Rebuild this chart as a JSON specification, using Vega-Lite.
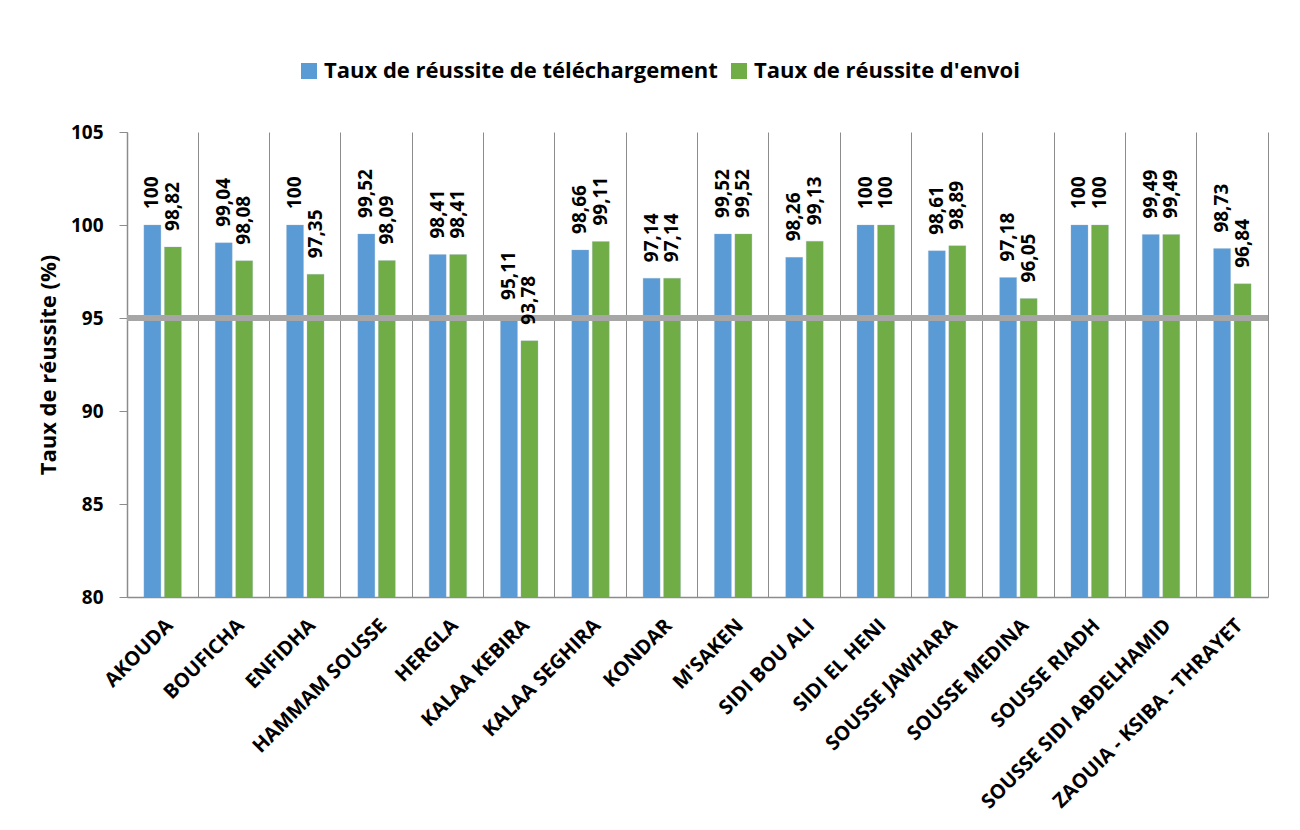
{
  "$schema": "https://vega.github.io/schema/vega-lite/v6.json",
  "width": 1141,
  "height": 465,
  "autosize": "none",
  "padding": {"left": 127, "top": 132, "right": 32, "bottom": 233},
  "background": "white",
  "config": {
    "font": "Open Sans",
    "view": {"stroke": null},
    "locale": {"number": {"decimal": ",", "thousands": " ", "grouping": [3], "currency": ["", " €"]}}
  },
  "datasets": {
    "rates": [
      {"commune": "AKOUDA", "serie": "Taux de réussite de téléchargement", "taux": 100},
      {"commune": "AKOUDA", "serie": "Taux de réussite d'envoi", "taux": 98.82},
      {"commune": "BOUFICHA", "serie": "Taux de réussite de téléchargement", "taux": 99.04},
      {"commune": "BOUFICHA", "serie": "Taux de réussite d'envoi", "taux": 98.08},
      {"commune": "ENFIDHA", "serie": "Taux de réussite de téléchargement", "taux": 100},
      {"commune": "ENFIDHA", "serie": "Taux de réussite d'envoi", "taux": 97.35},
      {"commune": "HAMMAM SOUSSE", "serie": "Taux de réussite de téléchargement", "taux": 99.52},
      {"commune": "HAMMAM SOUSSE", "serie": "Taux de réussite d'envoi", "taux": 98.09},
      {"commune": "HERGLA", "serie": "Taux de réussite de téléchargement", "taux": 98.41},
      {"commune": "HERGLA", "serie": "Taux de réussite d'envoi", "taux": 98.41},
      {"commune": "KALAA KEBIRA", "serie": "Taux de réussite de téléchargement", "taux": 95.11},
      {"commune": "KALAA KEBIRA", "serie": "Taux de réussite d'envoi", "taux": 93.78},
      {"commune": "KALAA SEGHIRA", "serie": "Taux de réussite de téléchargement", "taux": 98.66},
      {"commune": "KALAA SEGHIRA", "serie": "Taux de réussite d'envoi", "taux": 99.11},
      {"commune": "KONDAR", "serie": "Taux de réussite de téléchargement", "taux": 97.14},
      {"commune": "KONDAR", "serie": "Taux de réussite d'envoi", "taux": 97.14},
      {"commune": "M'SAKEN", "serie": "Taux de réussite de téléchargement", "taux": 99.52},
      {"commune": "M'SAKEN", "serie": "Taux de réussite d'envoi", "taux": 99.52},
      {"commune": "SIDI BOU ALI", "serie": "Taux de réussite de téléchargement", "taux": 98.26},
      {"commune": "SIDI BOU ALI", "serie": "Taux de réussite d'envoi", "taux": 99.13},
      {"commune": "SIDI EL HENI", "serie": "Taux de réussite de téléchargement", "taux": 100},
      {"commune": "SIDI EL HENI", "serie": "Taux de réussite d'envoi", "taux": 100},
      {"commune": "SOUSSE JAWHARA", "serie": "Taux de réussite de téléchargement", "taux": 98.61},
      {"commune": "SOUSSE JAWHARA", "serie": "Taux de réussite d'envoi", "taux": 98.89},
      {"commune": "SOUSSE MEDINA", "serie": "Taux de réussite de téléchargement", "taux": 97.18},
      {"commune": "SOUSSE MEDINA", "serie": "Taux de réussite d'envoi", "taux": 96.05},
      {"commune": "SOUSSE RIADH", "serie": "Taux de réussite de téléchargement", "taux": 100},
      {"commune": "SOUSSE RIADH", "serie": "Taux de réussite d'envoi", "taux": 100},
      {"commune": "SOUSSE SIDI ABDELHAMID", "serie": "Taux de réussite de téléchargement", "taux": 99.49},
      {"commune": "SOUSSE SIDI ABDELHAMID", "serie": "Taux de réussite d'envoi", "taux": 99.49},
      {"commune": "ZAOUIA - KSIBA - THRAYET", "serie": "Taux de réussite de téléchargement", "taux": 98.73},
      {"commune": "ZAOUIA - KSIBA - THRAYET", "serie": "Taux de réussite d'envoi", "taux": 96.84}
    ],
    "seuil": [{"taux": 95}]
  },
  "layer": [
    {
      "data": {"name": "rates"},
      "mark": {"type": "bar", "clip": true, "stroke": "#9fb6cc", "strokeWidth": 0.5, "strokeOpacity": 0.6},
      "encoding": {
        "x": {
          "field": "commune", "type": "nominal", "sort": null,
          "scale": {"paddingInner": 0, "paddingOuter": 0},
          "axis": {
            "title": null, "labelAngle": -45, "labelFontSize": 20, "labelFontWeight": "bold",
            "labelColor": "#000000", "labelPadding": 18, "labelLimit": 400,
            "ticks": false, "domainColor": "#8c8c8c", "domainWidth": 1.5,
            "grid": true, "bandPosition": 0, "gridColor": "#8c8c8c", "gridWidth": 1
          }
        },
        "xOffset": {
          "field": "serie", "type": "nominal", "sort": null,
          "scale": {"paddingInner": 0.17, "paddingOuter": 0.825}
        },
        "y": {
          "field": "taux", "type": "quantitative",
          "scale": {"domain": [80, 105], "zero": false, "nice": false},
          "axis": {
            "title": "Taux de réussite (%)", "titleFontSize": 22, "titleFontWeight": "bold",
            "titleColor": "#000000", "titlePadding": 10,
            "values": [80, 85, 90, 95, 100, 105], "format": "d",
            "labelFontSize": 19, "labelFontWeight": "bold", "labelColor": "#000000",
            "labelPadding": 16, "tickSize": 8, "tickColor": "#8c8c8c", "domainColor": "#8c8c8c",
            "domainWidth": 1.5, "grid": false
          }
        },
        "color": {
          "field": "serie", "type": "nominal", "sort": null,
          "scale": {"range": ["#5B9BD5", "#70AD47"]},
          "legend": {
            "title": null, "orient": "none", "direction": "horizontal",
            "legendX": 171, "legendY": -72,
            "symbolType": "square", "symbolSize": 256, "symbolStrokeWidth": 0,
            "labelFontSize": 22, "labelFontWeight": "bold", "labelColor": "#000000",
            "labelLimit": 600, "columnPadding": 10, "labelOffset": 4
          }
        }
      }
    },
    {
      "data": {"name": "seuil"},
      "mark": {"type": "rule", "color": "#A6A6A6", "strokeWidth": 6},
      "encoding": {
        "y": {
          "field": "taux", "type": "quantitative",
          "axis": {"orient": "right", "title": null, "labels": false, "ticks": false,
                   "grid": false, "domainColor": "#8c8c8c", "domainWidth": 1}
        }
      }
    },
    {
      "data": {"name": "rates"},
      "mark": {"type": "text", "angle": 270, "align": "left", "baseline": "middle",
               "dx": 16, "fontSize": 19, "fontWeight": "bold", "color": "#000000"},
      "encoding": {
        "x": {"field": "commune", "type": "nominal", "sort": null},
        "xOffset": {"field": "serie", "type": "nominal", "sort": null},
        "y": {"field": "taux", "type": "quantitative", "axis": null},
        "text": {"field": "taux", "type": "quantitative", "format": ".2~f"}
      }
    }
  ],
  "resolve": {"axis": {"y": "independent"}}
}
